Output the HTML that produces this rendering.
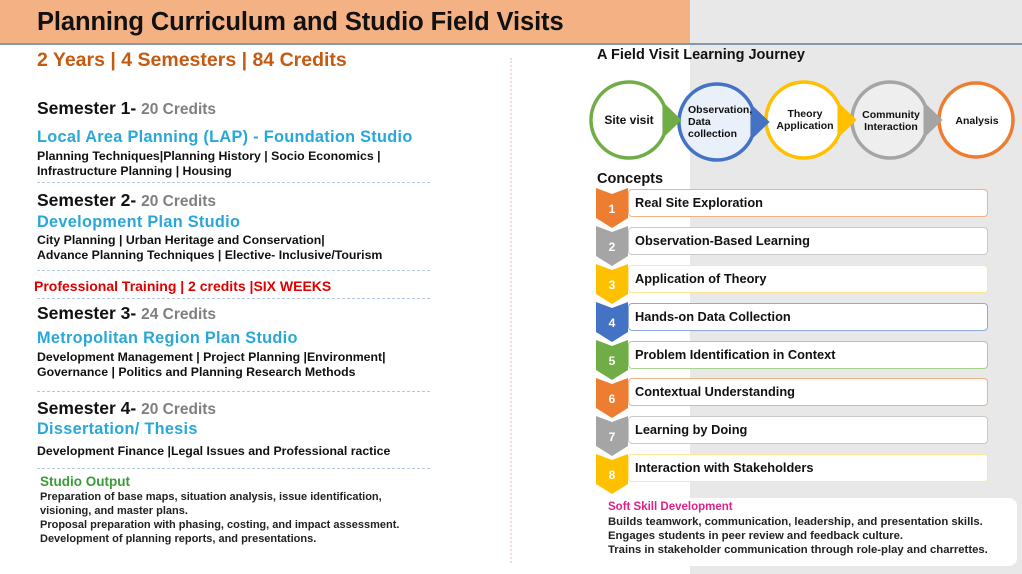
<!DOCTYPE html>
<html><head><meta charset="utf-8"><style>
*{margin:0;padding:0;box-sizing:border-box}
body{width:1022px;height:574px;position:relative;overflow:hidden;background:#fff;font-family:"Liberation Sans",sans-serif;color:#111}
.a{position:absolute;white-space:nowrap}
.hdr{left:0;top:0;width:690px;height:43px;background:#f4b183}
.gray{left:690px;top:0;width:332px;height:574px;background:#e8e8e8}
.bl{left:0;top:43px;width:1022px;height:1.5px;background:#8497b0}
.sem{font-size:17.5px;font-weight:bold}
.sem span{color:#7f7f7f;font-size:15.5px}
.st{color:#28a8d8;font-size:16.3px;font-weight:bold;letter-spacing:.3px}
.sm{font-size:12.3px;line-height:15px;font-weight:bold}
.dash{left:37px;width:393px;height:0;border-top:1.5px dashed #b4c7dc}
.row{left:628px;width:360px;height:28px;background:#fff;border:1.5px solid;border-radius:4px;font-size:12.8px;font-weight:bold;padding:5px 0 0 6px}
.num{left:596px;width:32px;text-align:center;color:#fff;font-size:12px;font-weight:bold}
.circ{font-size:10.5px;font-weight:bold;text-align:center;line-height:12px}
</style></head><body>
<div class="a hdr"></div>
<div class="a gray"></div>
<div class="a bl"></div>
<div class="a" style="left:37px;top:8px;font-size:25.5px;font-weight:bold;letter-spacing:-.1px">Planning Curriculum and Studio Field Visits</div>
<div class="a" style="left:37px;top:49px;font-size:19.5px;font-weight:bold;color:#c55a11">2 Years | 4 Semesters | 84 Credits</div>
<div class="a" style="left:510px;top:58px;height:505px;border-left:2px dotted #f2dcd6"></div>

<div class="a sem" style="left:37px;top:98px">Semester 1- <span>20 Credits</span></div>
<div class="a st" style="left:37px;top:128px">Local Area Planning (LAP) - Foundation Studio</div>
<div class="a sm" style="left:37px;top:149px">Planning Techniques|Planning History | Socio Economics |<br>Infrastructure Planning | Housing</div>
<div class="a dash" style="top:182px"></div>
<div class="a sem" style="left:37px;top:190px">Semester 2- <span>20 Credits</span></div>
<div class="a st" style="left:37px;top:213px">Development Plan Studio</div>
<div class="a sm" style="left:37px;top:233px">City Planning | Urban Heritage and Conservation|<br>Advance Planning Techniques | Elective- Inclusive/Tourism</div>
<div class="a dash" style="top:270px"></div>
<div class="a" style="left:34px;top:278px;font-size:14px;font-weight:bold;color:#e00000">Professional Training | 2 credits |SIX WEEKS</div>
<div class="a dash" style="top:298px"></div>
<div class="a sem" style="left:37px;top:303px">Semester 3- <span>24 Credits</span></div>
<div class="a st" style="left:37px;top:329px">Metropolitan Region Plan Studio</div>
<div class="a sm" style="left:37px;top:350px">Development Management | Project Planning |Environment|<br>Governance | Politics and Planning Research Methods</div>
<div class="a dash" style="top:391px"></div>
<div class="a sem" style="left:37px;top:398px">Semester 4- <span>20 Credits</span></div>
<div class="a st" style="left:37px;top:420px">Dissertation/ Thesis</div>
<div class="a sm" style="left:37px;top:444px">Development Finance |Legal Issues and Professional ractice</div>
<div class="a dash" style="top:468px"></div>
<div class="a" style="left:40px;top:474px;font-size:13.5px;font-weight:bold;color:#3a9b3a">Studio Output</div>
<div class="a" style="left:40px;top:490px;font-size:11px;line-height:14px;font-weight:bold;color:#222">Preparation of base maps, situation analysis, issue identification,<br>visioning, and master plans.<br>Proposal preparation with phasing, costing, and impact assessment.<br>Development of planning reports, and presentations.</div>

<div class="a" style="left:597px;top:47px;font-size:14.5px;font-weight:bold">A Field Visit Learning Journey</div>
<svg class="a" style="left:580px;top:70px" width="442" height="100">
<g stroke-width="3.5">
<circle cx="396" cy="50" r="37" fill="#fff" stroke="#ed7d31"/>
<path d="M360 50 L345.2 35.8 A38 38 0 1 0 345.2 64.2 Z" fill="#eee" stroke="#a5a5a5"/>
<path d="M360 50 L345.2 35.8 L345.2 64.2 Z" fill="#a5a5a5" stroke="#a5a5a5"/>
<path d="M274 50 L259.2 35.8 A38 38 0 1 0 259.2 64.2 Z" fill="#fff" stroke="#ffc000"/>
<path d="M274 50 L259.2 35.8 L259.2 64.2 Z" fill="#ffc000" stroke="#ffc000"/>
<path d="M187 52 L172.2 37.8 A38 38 0 1 0 172.2 66.2 Z" fill="#eaf0fa" stroke="#4472c4"/>
<path d="M187 52 L172.2 37.8 L172.2 66.2 Z" fill="#4472c4" stroke="#4472c4"/>
<path d="M99 50 L84.2 35.8 A38 38 0 1 0 84.2 64.2 Z" fill="#fff" stroke="#70ad47"/>
<path d="M99 50 L84.2 35.8 L84.2 64.2 Z" fill="#70ad47" stroke="#70ad47"/>
</g>
</svg>
<div class="a circ" style="left:597px;top:114px;width:64px;font-size:12px">Site visit</div>
<div class="a circ" style="left:688px;top:104px;text-align:left">Observation,<br>Data<br>collection</div>
<div class="a circ" style="left:769px;top:108px;width:72px">Theory<br>Application</div>
<div class="a circ" style="left:855px;top:109px;width:72px">Community<br>Interaction</div>
<div class="a circ" style="left:949px;top:115px;width:56px">Analysis</div>

<div class="a" style="left:597px;top:171px;font-size:14.5px;font-weight:bold">Concepts</div>
<svg class="a" style="left:596px;top:186px" width="34" height="310">
<g>
<path d="M0 2 l16 6 16 -6 v30 l-16 10 -16 -10z" fill="#ed7d31"/>
<path d="M0 40 l16 6 16 -6 v30 l-16 10 -16 -10z" fill="#a5a5a5"/>
<path d="M0 78 l16 6 16 -6 v30 l-16 10 -16 -10z" fill="#ffc000"/>
<path d="M0 116 l16 6 16 -6 v30 l-16 10 -16 -10z" fill="#4472c4"/>
<path d="M0 154 l16 6 16 -6 v30 l-16 10 -16 -10z" fill="#70ad47"/>
<path d="M0 192 l16 6 16 -6 v30 l-16 10 -16 -10z" fill="#ed7d31"/>
<path d="M0 230 l16 6 16 -6 v30 l-16 10 -16 -10z" fill="#a5a5a5"/>
<path d="M0 268 l16 6 16 -6 v30 l-16 10 -16 -10z" fill="#ffc000"/>
</g></svg>
<div class="a row" style="top:189px;border-color:#f4b183">Real Site Exploration</div>
<div class="a row" style="top:227px;border-color:#c9c9c9">Observation-Based Learning</div>
<div class="a row" style="top:265px;border-color:#ffe699">Application of Theory</div>
<div class="a row" style="top:303px;border-color:#8faadc">Hands-on Data Collection</div>
<div class="a row" style="top:341px;border-color:#a9d18e">Problem Identification in Context</div>
<div class="a row" style="top:378px;border-color:#f4b183">Contextual Understanding</div>
<div class="a row" style="top:416px;border-color:#c9c9c9">Learning by Doing</div>
<div class="a row" style="top:454px;border-color:#ffe699">Interaction with Stakeholders</div>
<div class="a num" style="top:202px">1</div><div class="a num" style="top:240px">2</div><div class="a num" style="top:278px">3</div><div class="a num" style="top:316px">4</div><div class="a num" style="top:354px">5</div><div class="a num" style="top:392px">6</div><div class="a num" style="top:430px">7</div><div class="a num" style="top:468px">8</div>

<div class="a" style="left:605px;top:498px;width:412px;height:68px;background:#fff;border-radius:8px"></div>
<div class="a" style="left:608px;top:501px;font-size:11.5px;font-weight:bold;color:#e0218a">Soft Skill Development</div>
<div class="a" style="left:608px;top:515px;font-size:11.3px;line-height:14px;font-weight:bold;color:#222">Builds teamwork, communication, leadership, and presentation skills.<br>Engages students in peer review and feedback culture.<br>Trains in stakeholder communication through role-play and charrettes.</div>
</body></html>
